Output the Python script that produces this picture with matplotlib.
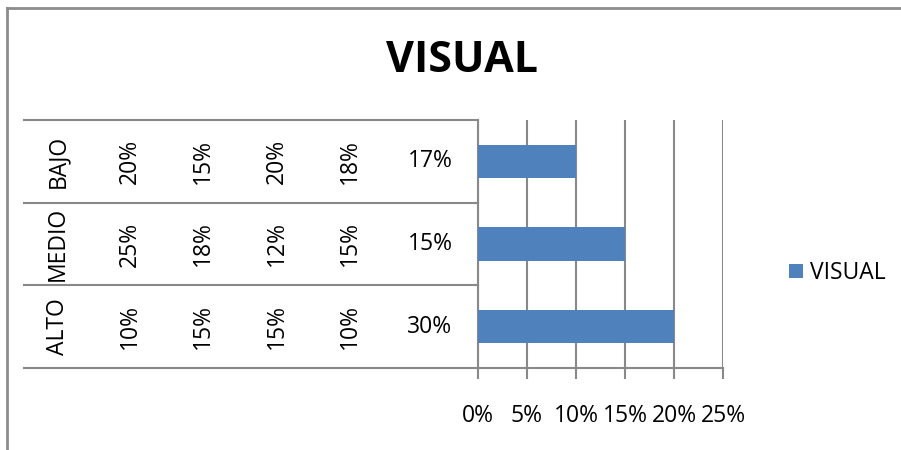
import matplotlib
matplotlib.use("Agg")
import matplotlib.pyplot as plt
from matplotlib.lines import Line2D
from matplotlib.patches import Patch
from matplotlib.transforms import blended_transform_factory
from matplotlib.ticker import FuncFormatter

plt.rcParams['font.family'] = ['Open Sans', 'DejaVu Sans']

# Data (bottom to top)
groups = ["ALTO", "MEDIO", "BAJO"]
level2 = ["10%", "25%", "20%"]
level3 = ["15%", "18%", "15%"]
level4 = ["15%", "12%", "20%"]
level5 = ["10%", "15%", "18%"]
level6 = ["30%", "15%", "17%"]
values = [0.20, 0.15, 0.10]
xticks = [0, 0.05, 0.10, 0.15, 0.20, 0.25]
series_name = "VISUAL"
title = "VISUAL"

W, H = 901, 450
fig = plt.figure(figsize=(W / 100, H / 100), dpi=100)
fig.patch.set_facecolor("white")

def fx(px):
    return px / W

def fy(py):
    return 1 - py / H

gray = "#898989"
bar_color = "#4F81BD"
fs = 16.5

ax = fig.add_axes([fx(478), fy(368), fx(723) - fx(478), fy(120) - fy(368)])
ypos = list(range(len(groups)))
ax.barh(ypos, values, height=0.4, color=bar_color, zorder=3)
ax.set_xlim(0, 0.25)
ax.set_ylim(-0.5, len(groups) - 0.5)
ax.set_xticks(xticks)
ax.xaxis.set_major_formatter(FuncFormatter(lambda v, p: f"{round(v * 100)}%"))
ax.tick_params(axis="x", length=8, width=1.5, color=gray, pad=18, labelsize=fs)
ax.set_yticks([])
ax.grid(axis="x", color=gray, linewidth=1.5, zorder=0)
for s in ["top", "right"]:
    ax.spines[s].set_visible(False)
for s in ["left", "bottom"]:
    ax.spines[s].set_color(gray)
    ax.spines[s].set_linewidth(1.5)

# Multi-level category table
tr = blended_transform_factory(fig.transFigure, ax.transData)
for yb in [i - 0.5 for i in range(len(groups) + 1)]:
    fig.add_artist(Line2D([fx(24), fx(478)], [yb, yb], transform=tr,
                          color=gray, linewidth=1.5, clip_on=False))

col_x = [58, 130, 203, 277, 350]
cols = [groups, level2, level3, level4, level5]
for cx, col in zip(col_x, cols):
    for y, lab in zip(ypos, col):
        fig.text(fx(cx), y, lab, transform=tr, rotation=90,
                 ha="center", va="center", fontsize=fs)
for y, lab in zip(ypos, level6):
    fig.text(fx(430), y, lab, transform=tr, ha="center", va="center", fontsize=fs)

# Title
fig.text(fx(462), fy(60), title, ha="center", va="center",
         fontsize=31, fontweight="bold")

# Legend
fig.legend(handles=[Patch(facecolor=bar_color, label=series_name)],
           loc="center left", bbox_to_anchor=(fx(789), fy(273)),
           frameon=False, fontsize=fs, handlelength=0.6, handleheight=0.6,
           handletextpad=0.3, borderpad=0, borderaxespad=0)

# Outer chart border (left and top visible)
fig.add_artist(Line2D([fx(7), fx(7)], [fy(8), 0], color="#8c8c8c", linewidth=2))
fig.add_artist(Line2D([fx(7), 1], [fy(8), fy(8)], color="#8c8c8c", linewidth=2))

fig.savefig("out.png", dpi=100, facecolor="white")
